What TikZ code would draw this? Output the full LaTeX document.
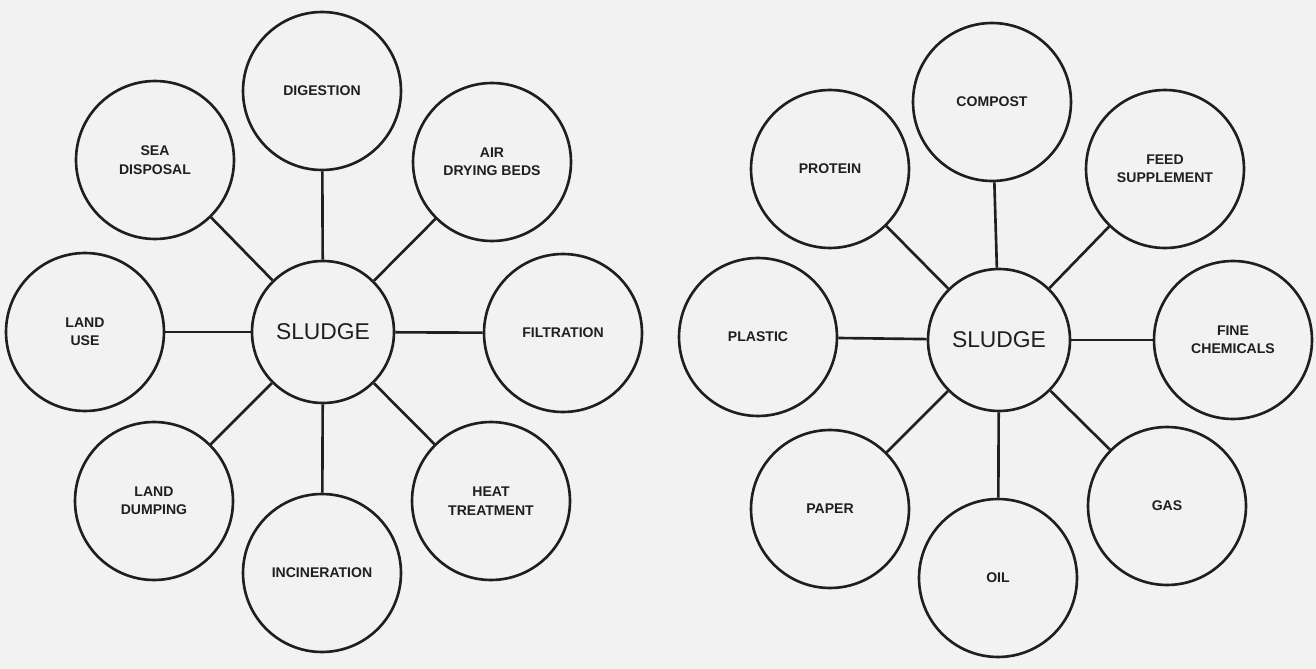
\documentclass[tikz,border=0pt]{standalone}
\usepackage{fontspec}
\setmainfont{Liberation Sans}
\usepackage{tikz}

\definecolor{paper}{gray}{0.95}
\definecolor{ink}{gray}{0.12}

\tikzset{
  hub/.style   = {circle, draw = ink, line width = 1.5pt, minimum size = 2.84cm, text = ink,
                  font = \fontsize{13}{15}\selectfont},
  item/.style  = {circle, draw = ink, line width = 1.5pt, minimum size = 3.16cm, text = ink,
                  align = center, font = \fontsize{8}{10.5}\selectfont\bfseries},
  spoke/.style = {draw = ink, line width = 1.5pt}
}

\begin{document}
\begin{tikzpicture}[x = 0.02cm, y = -0.02cm]

  % Paper
  \fill[paper] (0,0) rectangle (1316,669);
  \useasboundingbox (0,0) rectangle (1316,669);

  % Disposal and treatment routes
  \begin{scope}[shift={(323,332)}]

    \node[hub ] (sludgeL)      at (   0,    0) {SLUDGE};
    \node[item] (digestion)    at (  -1, -241) {DIGESTION};
    \node[item] (airbeds)      at ( 169, -170) {AIR\\DRYING BEDS};
    \node[item] (filtration)   at ( 240,    1) {FILTRATION};
    \node[item] (heat)         at ( 168,  169) {HEAT\\TREATMENT};
    \node[item] (incineration) at (  -1,  241) {INCINERATION};
    \node[item] (dumping)      at (-169,  169) {LAND\\DUMPING};
    \node[item] (landuse)      at (-238,    0) {LAND\\USE};
    \node[item] (sea)          at (-168, -172) {SEA\\DISPOSAL};

    \foreach \n in {digestion, airbeds, filtration, heat, incineration, dumping, landuse, sea}
      \draw[spoke] (sludgeL) -- (\n);

  \end{scope} % Disposal and treatment routes

  % Products recovered from sludge
  \begin{scope}[shift={(999,340)}]

    \node[hub ] (sludgeR)   at (   0,    0) {SLUDGE};
    \node[item] (compost)   at (  -7, -238) {COMPOST};
    \node[item] (feed)      at ( 166, -171) {FEED\\SUPPLEMENT};
    \node[item] (chemicals) at ( 234,    0) {FINE\\CHEMICALS};
    \node[item] (gas)       at ( 168,  166) {GAS};
    \node[item] (oil)       at (  -1,  238) {OIL};
    \node[item] (paper)     at (-169,  169) {PAPER};
    \node[item] (plastic)   at (-241,   -3) {PLASTIC};
    \node[item] (protein)   at (-169, -171) {PROTEIN};

    \foreach \n in {compost, feed, chemicals, gas, oil, paper, plastic, protein}
      \draw[spoke] (sludgeR) -- (\n);

  \end{scope} % Products recovered from sludge

\end{tikzpicture}
\end{document}
